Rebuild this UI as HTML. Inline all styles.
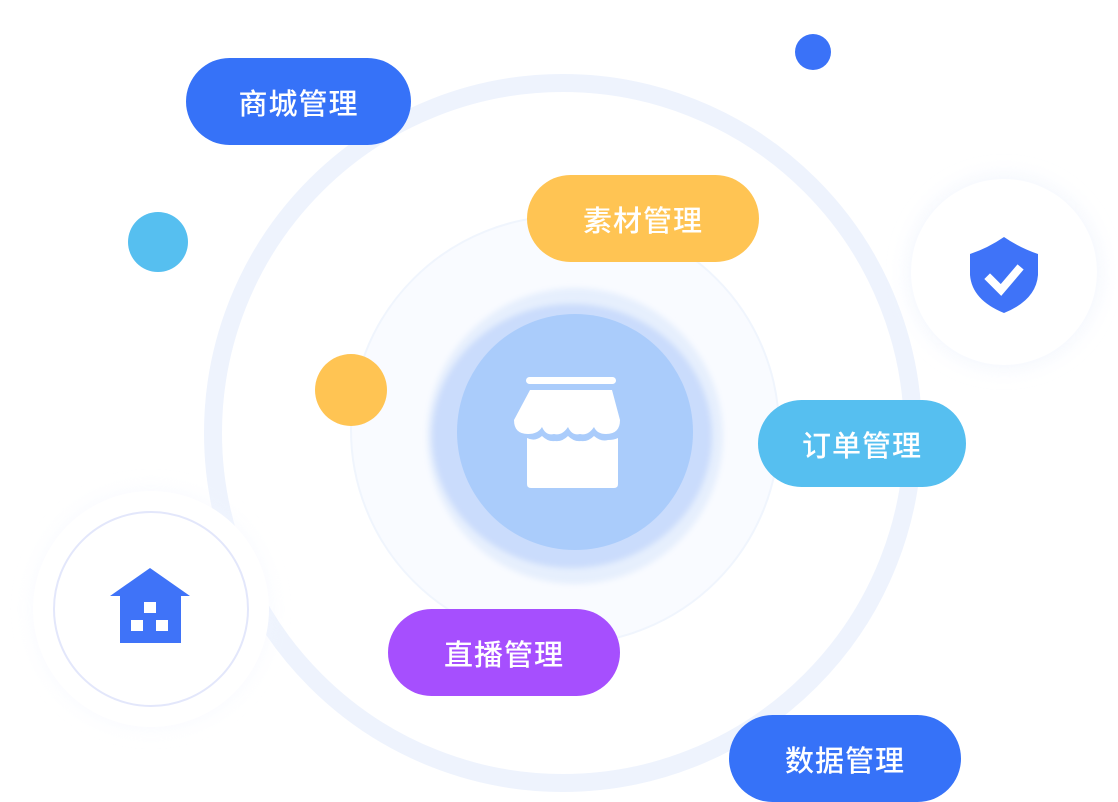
<!DOCTYPE html>
<html><head><meta charset="utf-8">
<style>
html,body{margin:0;padding:0;background:#fff;}
body{width:1118px;height:802px;overflow:hidden;position:relative;font-family:"Liberation Sans","Noto Sans CJK SC",sans-serif;}
.pill{position:absolute;height:87px;border-radius:44px;color:#fff;font-size:29px;display:flex;align-items:center;justify-content:center;letter-spacing:1px;font-weight:500;}
</style></head><body>
<svg width="1118" height="802" style="position:absolute;left:0;top:0">
<defs>
<filter id="sh" x="-30%" y="-30%" width="160%" height="160%"><feGaussianBlur stdDeviation="10"/></filter>
<filter id="bl" x="-30%" y="-30%" width="160%" height="160%"><feGaussianBlur stdDeviation="3"/></filter>
</defs>
<circle cx="563" cy="433" r="350" fill="none" stroke="#eef3fd" stroke-width="18"/>
<circle cx="565" cy="430" r="214" fill="#f9fbff" stroke="#f0f5fd" stroke-width="2"/>
<circle cx="575" cy="436" r="148" fill="#e6effd" filter="url(#bl)"/>
<ellipse cx="572" cy="436" rx="140" ry="132" fill="#cadcfc" filter="url(#bl)"/>
<circle cx="575" cy="432" r="118" fill="#aaccfb"/>
<!-- shop icon -->
<rect x="526" y="377" width="90" height="7" rx="3.5" fill="#fff"/>
<path d="M530 390 H612 L620 420 Q620 434 606 434 Q597 434 594 427 Q588 436 580 434 Q572 436 568 427 Q562 436 554 434 Q546 436 542 427 Q538 434 528 434 Q514 434 514 420 Z" fill="#fff"/>
<path d="M527 438 Q535 442 542 436 Q548 442 555 441 Q562 442 568 436 Q574 442 581 441 Q588 442 594 436 Q601 442 608 440 Q614 440 618 438 V484 Q618 488 614 488 H531 Q527 488 527 484 Z" fill="#fff"/>
<!-- house circle -->
<circle cx="151" cy="609" r="118" fill="#f3f6fe" filter="url(#sh)" opacity="0.6"/>
<circle cx="151" cy="609" r="118" fill="#fff"/>
<circle cx="151" cy="609" r="97" fill="#fff" stroke="#e3e7fb" stroke-width="2"/>
<path d="M150 568 L190 596 H181 V643 H120 V596 H110 Z" fill="#3f73f8"/>
<rect x="144" y="602" width="12" height="11" fill="#fff"/>
<rect x="131" y="620" width="12" height="11" fill="#fff"/>
<rect x="156" y="620" width="12" height="11" fill="#fff"/>
<!-- shield circle -->
<circle cx="1004" cy="272" r="96" fill="#eef3fd" filter="url(#sh)" opacity="0.7"/>
<circle cx="1004" cy="272" r="93" fill="#fff"/>
<path d="M1004 237 Q1020 248 1038 254 V275 Q1036 300 1004 313 Q972 300 970 275 V254 Q988 248 1004 237 Z" fill="#3f73f8"/>
<path d="M990 279 L1001 290 L1018 270" fill="none" stroke="#fff" stroke-width="8" stroke-linecap="square"/>
<!-- dots -->
<circle cx="813" cy="52" r="18" fill="#3a72f8"/>
<circle cx="158" cy="242" r="30" fill="#56bff0"/>
<circle cx="351" cy="390" r="36" fill="#ffc453"/>
</svg>
<div class="pill" style="left:186px;top:58px;width:225px;background:#3672f8">商城管理</div>
<div class="pill" style="left:527px;top:175px;width:232px;background:#ffc453">素材管理</div>
<div class="pill" style="left:758px;top:400px;width:208px;background:#56bff0">订单管理</div>
<div class="pill" style="left:388px;top:609px;width:232px;background:#a64ffe">直播管理</div>
<div class="pill" style="left:729px;top:715px;width:232px;background:#3672f8">数据管理</div>
</body></html>
